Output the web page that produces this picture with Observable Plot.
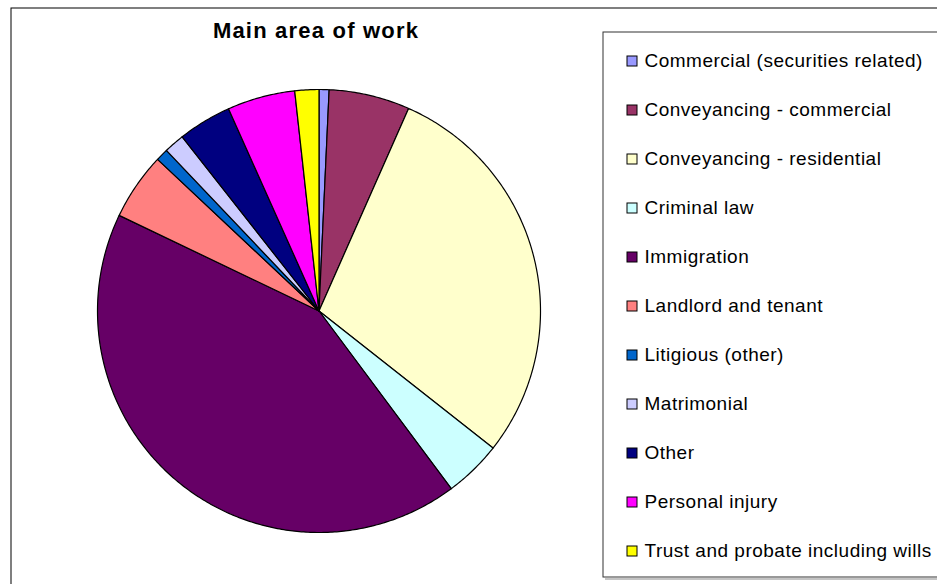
<!DOCTYPE html>
<html><head><meta charset="utf-8">
<script src="https://cdn.jsdelivr.net/npm/d3@7"></script>
<script src="https://cdn.jsdelivr.net/npm/@observablehq/plot@0.6"></script>
<style>html,body{margin:0;padding:0;background:#fff;overflow:hidden}</style>
</head><body><div id="chart"></div>
<script>
const title = "Main area of work";
const categories = [
  "Commercial (securities related)",
  "Conveyancing - commercial",
  "Conveyancing - residential",
  "Criminal law",
  "Immigration",
  "Landlord and tenant",
  "Litigious (other)",
  "Matrimonial",
  "Other",
  "Personal injury",
  "Trust and probate including wills"
];
const values = [0.73, 5.9, 29.0, 4.2, 42.3, 4.9, 0.9, 1.5, 3.9, 4.95, 1.75];
const colors = ["#9999FF", "#993366", "#FFFFCC", "#CCFFFF", "#660066", "#FF8080",
                "#0066CC", "#CCCCFF", "#000080", "#FF00FF", "#FFFF00"];

const W = 937, H = 584;
const cx = 318.5, cy = 310.5, R = 221.5;
const font = "Liberation Sans, Arial, sans-serif";

const arcs = d3.pie().sort(null).value(d => d.value)(
  categories.map((c, i) => ({category: c, value: values[i]}))
);
const slicePts = arcs.flatMap(a => {
  const category = a.data.category;
  const pts = [{category, x: cx, y: cy}];
  const n = Math.max(2, Math.ceil((a.endAngle - a.startAngle) / 0.01));
  for (let k = 0; k <= n; k++) {
    const t = a.startAngle + (a.endAngle - a.startAngle) * k / n;
    pts.push({category, x: cx + R * Math.sin(t), y: cy - R * Math.cos(t)});
  }
  pts.push({category, x: cx, y: cy});
  return pts;
});

const legend = categories.map((c, i) => ({category: c, i}));
const sx = 627, sy0 = 56, step = 49, sz = 10;

const plot = Plot.plot({
  width: W, height: H,
  margin: 0,
  x: {domain: [0, W], range: [0, W], axis: null},
  y: {domain: [0, H], range: [0, H], axis: null},
  color: {domain: categories, range: colors},
  style: {fontFamily: font, background: "#fff"},
  marks: [
    Plot.rect([0], {x1: 11, x2: W + 5, y1: 8, y2: H + 5, fill: "none", stroke: "#000", strokeWidth: 1}),
    Plot.ruleY([578.5], {x1: 605, x2: W + 5, stroke: "#b0b0b0", strokeWidth: 1.5}),
    Plot.rect([0], {x1: 603, x2: W + 5, y1: 32, y2: 577, fill: "#fff", stroke: "#333", strokeWidth: 1}),
    Plot.line(slicePts, {x: "x", y: "y", z: "category", fill: "category", stroke: "#000",
      strokeWidth: 1.2, strokeLinejoin: "round", curve: "linear"}),
    Plot.rect(legend, {x1: sx, x2: sx + sz, y1: d => sy0 + step * d.i, y2: d => sy0 + step * d.i + sz,
      fill: "category", stroke: "#000", strokeWidth: 1}),
    Plot.text(legend, {x: 644, y: d => sy0 + step * d.i + sz / 2 - 0.9, text: "category",
      textAnchor: "start", lineAnchor: "middle", fontSize: 19, fill: "#000", ariaLabel: () => "legend-text"}),
    Plot.text([title], {x: 315.5, y: 30.3, text: d => d, fontSize: 22, fontWeight: "bold",
      textAnchor: "middle", lineAnchor: "middle", fill: "#000", ariaLabel: () => "title-text"})
  ]
});
d3.select(plot).selectAll('[aria-label="legend-text"]').style("letter-spacing", "0.5px");
d3.select(plot).selectAll('[aria-label="title-text"]').style("letter-spacing", "1.2px");
document.getElementById("chart").appendChild(plot);
</script>
</body></html>
